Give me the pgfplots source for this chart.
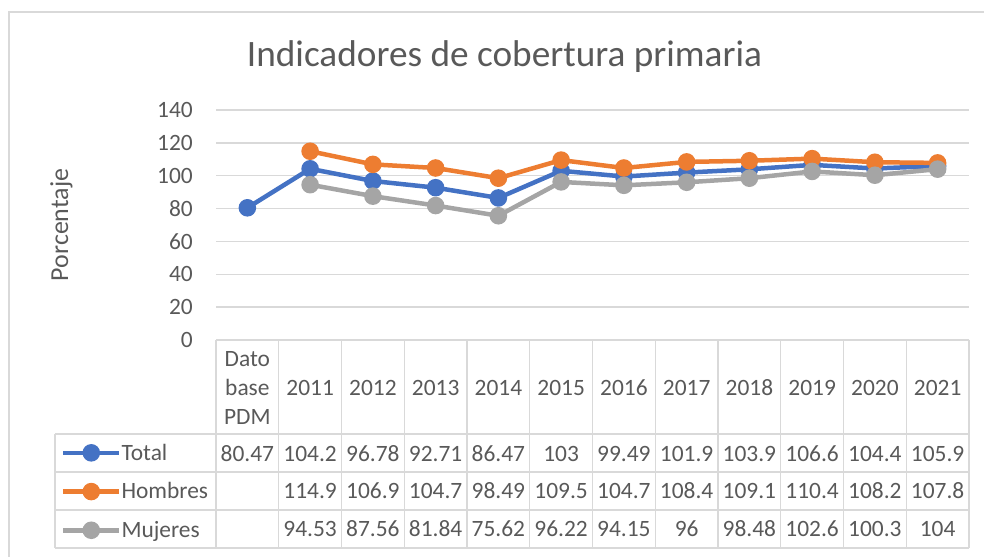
\documentclass[border=0pt]{standalone}
\usepackage{pgfplots}
\usepackage{pgfplotstable}
\pgfplotsset{compat=1.18}
\usepackage{fontspec}
\setmainfont{Carlito}
\definecolor{cTotal}{HTML}{4472C4}
\definecolor{cHom}{HTML}{ED7D31}
\definecolor{cMuj}{HTML}{A5A5A5}
\definecolor{txt}{HTML}{595959}
\definecolor{gridc}{HTML}{D9D9D9}
\newcommand{\fs}{\fontsize{23.5}{28.7}\selectfont}

\pgfplotstableread{
x total hombres mujeres
0 80.47 nan nan
1 104.2 114.9 94.53
2 96.78 106.9 87.56
3 92.71 104.7 81.84
4 86.47 98.49 75.62
5 103 109.5 96.22
6 99.49 104.7 94.15
7 101.9 108.4 96
8 103.9 109.1 98.48
9 106.6 110.4 102.6
10 104.4 108.2 100.3
11 105.9 107.8 104
}\datatable

\begin{document}
\begin{tikzpicture}
\useasboundingbox (0,0) rectangle (984bp,557bp);
\begin{scope}[x=1bp,y=1bp]
\draw[gridc, line width=1.5] (9,0) -- (9,545) -- (984,545);
\end{scope}
\begin{axis}[
  at={(216bp,217bp)}, anchor=south west,
  width=753bp, height=230bp, scale only axis,
  xmin=-0.5, xmax=11.5, ymin=0, ymax=140,
  ytick={0,20,...,140}, xtick=\empty,
  ymajorgrids, grid style={gridc, line width=1.3bp},
  axis line style={draw=none},
  major tick length=0pt,
  tick label style={font=\fs, text=txt},
  /pgf/number format/assume math mode=true,
  yticklabel style={inner sep=0pt, xshift=-23bp},
  clip=false,
  legend cell align=left,
  legend style={at={(axis description cs:-0.2058,-0.452)}, anchor=north west,
    draw=none, fill=none, inner sep=0pt, outer sep=0pt, font=\fs, text=txt,
    row sep=21bp, column sep=0bp, nodes={inner sep=0pt}},
  legend image code/.code={\draw[mark repeat=2,mark phase=2,#1] plot coordinates {(0bp,0bp) (28bp,0bp) (56bp,0bp)};},
]
\addplot[cTotal, line width=4.5bp, mark=*, mark size=6.5bp, mark options={fill=cTotal, draw=none}] table[x=x, y=total] {\datatable};
\addplot[cHom, line width=4.5bp, mark=*, mark size=6.5bp, mark options={fill=cHom, draw=none}] table[x=x, y=hombres] {\datatable};
\addplot[cMuj, line width=4.5bp, mark=*, mark size=6.5bp, mark options={fill=cMuj, draw=none}] table[x=x, y=mujeres] {\datatable};
\legend{Total,Hombres,Mujeres}
\end{axis}
\begin{scope}[x=1bp,y=1bp]
% table lines
\draw[gridc, line width=1.5] (216,217) -- (969,217);
\foreach \k in {0,...,12} \draw[gridc, line width=1.5] ({216+62.75*\k},217) -- ({216+62.75*\k},9);
\foreach \yy in {123,85,47,9} \draw[gridc, line width=1.5] (55,\yy) -- (969,\yy);
\draw[gridc, line width=1.5] (55,123) -- (55,9);
% header
\node[anchor=base, font=\fs, text=txt, inner sep=0pt] at (247.375,191) {Dato};
\node[anchor=base, font=\fs, text=txt, inner sep=0pt] at (247.375,162) {base};
\node[anchor=base, font=\fs, text=txt, inner sep=0pt] at (247.375,133) {PDM};
\foreach \v [count=\i from 1] in {2011,2012,2013,2014,2015,2016,2017,2018,2019,2020,2021}
  \node[anchor=base, font=\fs, text=txt, inner sep=0pt] at ({247.375+62.75*\i},162) {\v};
\foreach \v [count=\i from 0] in {80.47,104.2,96.78,92.71,86.47,103,99.49,101.9,103.9,106.6,104.4,105.9}
  \node[anchor=base, font=\fs, text=txt, inner sep=0pt] at ({247.375+62.75*\i},96) {\v};
\foreach \v [count=\i from 1] in {114.9,106.9,104.7,98.49,109.5,104.7,108.4,109.1,110.4,108.2,107.8}
  \node[anchor=base, font=\fs, text=txt, inner sep=0pt] at ({247.375+62.75*\i},59) {\v};
\foreach \v [count=\i from 1] in {94.53,87.56,81.84,75.62,96.22,94.15,96,98.48,102.6,100.3,104}
  \node[anchor=base, font=\fs, text=txt, inner sep=0pt] at ({247.375+62.75*\i},21) {\v};
% titles
\node[anchor=base, font=\fontsize{37.4}{45}\selectfont, text=txt, inner sep=0pt] at (504.5,490) {Indicadores de cobertura primaria};
\node[rotate=90, anchor=base, font=\fontsize{26}{31}\selectfont, text=txt, inner sep=0pt] at (68,332) {Porcentaje};
\end{scope}
\end{tikzpicture}
\end{document}
